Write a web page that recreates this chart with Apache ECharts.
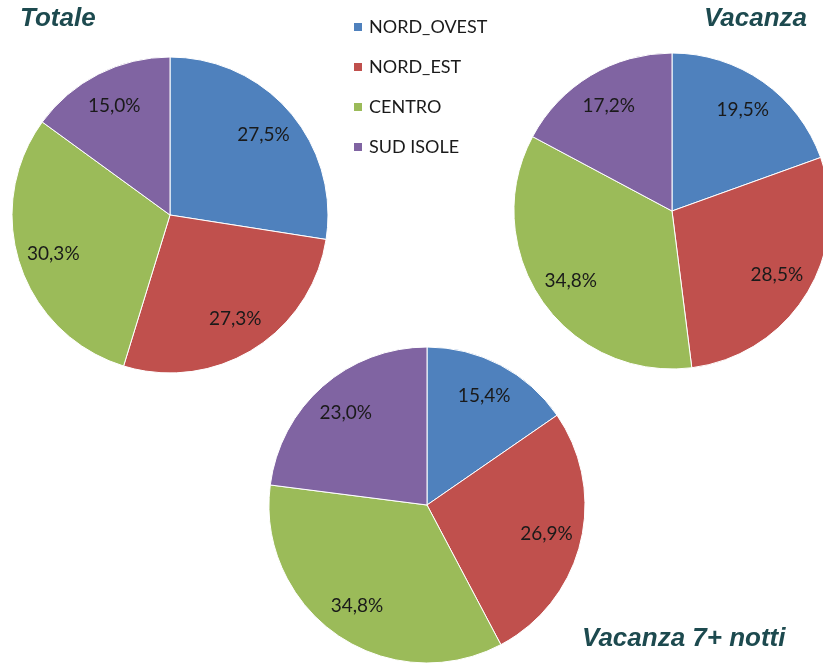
<!DOCTYPE html>
<html>
<head>
<meta charset="utf-8">
<script src="https://cdn.jsdelivr.net/npm/echarts@6/dist/echarts.min.js"></script>
<style>
  html, body { margin: 0; padding: 0; background: #fff; }
  #chart { width: 823px; height: 663px; }
</style>
</head>
<body>
<div id="chart"></div>
<script>
const regions = ['NORD_OVEST', 'NORD_EST', 'CENTRO', 'SUD ISOLE'];
const totale = [27.5, 27.3, 30.3, 15.0];
const vacanza = [19.5, 28.5, 34.8, 17.2];
const vacanza7 = [15.4, 26.9, 34.8, 23.0];

const colors = ['#4F81BD', '#C0504D', '#9BBB59', '#8064A2'];
const titleColor = '#1d4a4f';

const pies = [
    { values: totale, center: [170, 215] },
    { values: vacanza, center: [672, 211] },
    { values: vacanza7, center: [427, 505] },
];

function fmt(v) {
    return v.toFixed(1).replace('.', ',') + '%';
}

const series = [];
pies.forEach((p) => {
    const data = p.values.map((v, i) => ({ name: regions[i], value: v }));
    series.push({
        type: 'pie',
        center: p.center,
        radius: 158,
        startAngle: 90,
        clockwise: true,
        animation: false,
        silent: true,
        itemStyle: { borderColor: '#fff', borderWidth: 1 },
        label: { show: false },
        labelLine: { show: false },
        data,
    });
});
// transparent ring used only to place the percentage labels
pies.forEach((p) => {
    series.push({
        type: 'pie',
        center: p.center,
        radius: [104, 136],
        startAngle: 90,
        clockwise: true,
        animation: false,
        silent: true,
        legendHoverLink: false,
        itemStyle: { color: 'rgba(0,0,0,0)' },
        label: {
            show: true,
            position: 'inside',
            formatter: (d) => fmt(d.value),
            color: '#1a1a1a',
            fontFamily: 'Lato',
            fontSize: 19,
        },
        labelLine: { show: false },
        data: p.values.map((v, i) => ({ name: regions[i], value: v })),
    });
});

const titleStyle = {
    color: titleColor,
    fontFamily: 'Liberation Sans',
    fontWeight: 'bold',
    fontStyle: 'italic',
    fontSize: 26,
};

const chart = echarts.init(document.getElementById('chart'));
chart.setOption({
    color: colors,
    animation: false,
    title: [
        { text: 'Totale', left: 20, top: 6, padding: 0, textStyle: titleStyle },
        { text: 'Vacanza', right: 16, top: 6, padding: 0, textStyle: titleStyle },
        { text: 'Vacanza 7+ notti', left: 582, top: 626, padding: 0, textStyle: titleStyle },
    ],
    legend: {
        orient: 'vertical',
        left: 352,
        top: 18,
        padding: 0,
        itemWidth: 10,
        itemHeight: 10,
        itemGap: 22,
        icon: 'rect',
        selectedMode: false,
        data: regions,
        textStyle: { fontFamily: 'Lato', fontSize: 18, color: '#1a1a1a', padding: [0, 0, 0, 1] },
    },
    series,
});
</script>
</body>
</html>
